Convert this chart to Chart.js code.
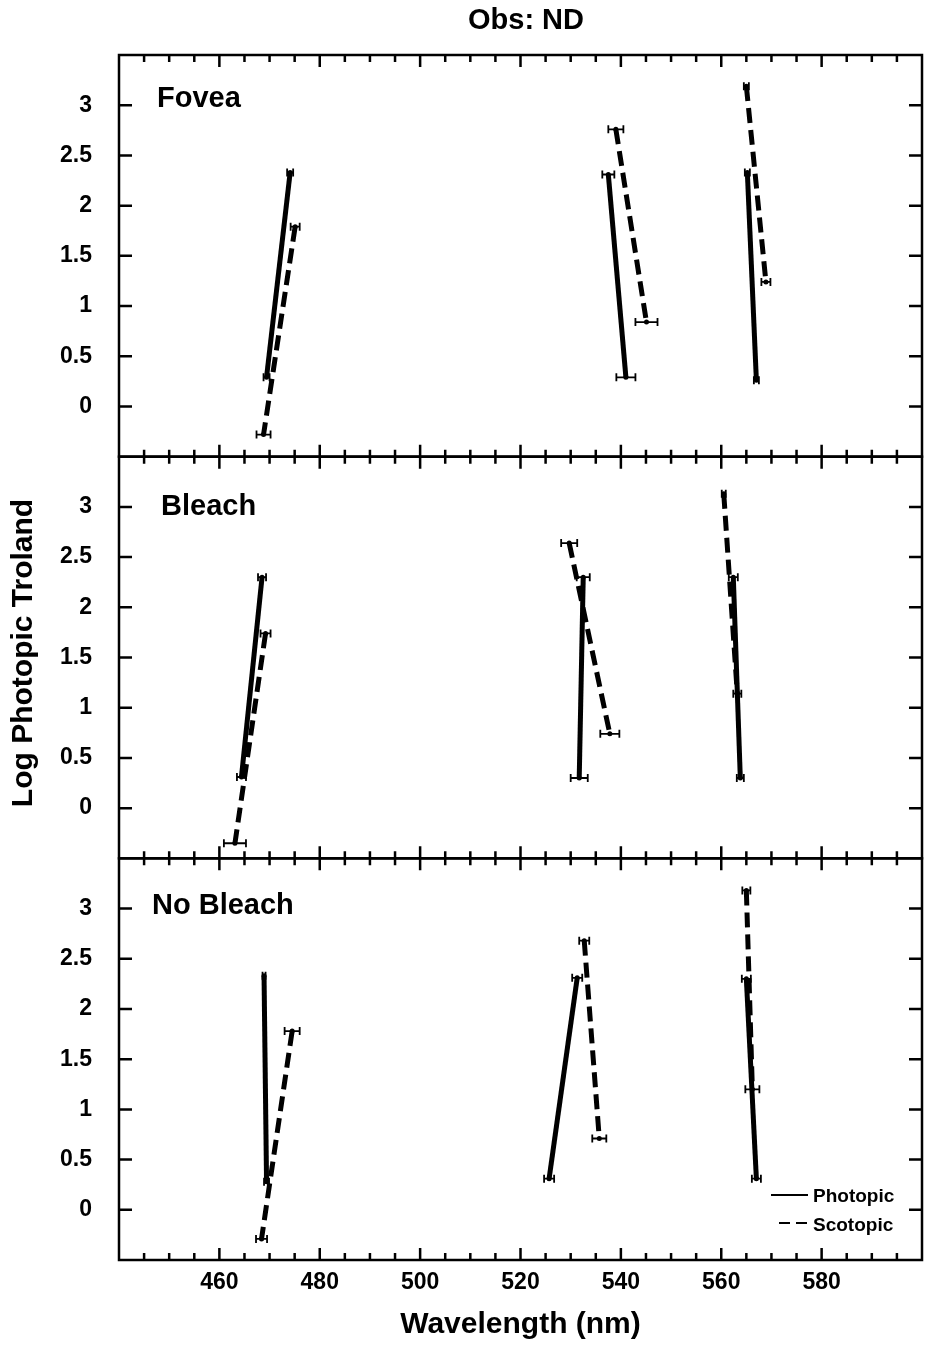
<!DOCTYPE html>
<html>
<head>
<meta charset="utf-8">
<script src="https://cdn.jsdelivr.net/npm/chart.js@4/dist/chart.umd.min.js"></script>
<style>
  html, body { margin: 0; padding: 0; background: #fff; }
  #wrap { width: 926px; height: 1353px; position: relative; }
</style>
</head>
<body>
<div id="wrap"><canvas id="c" width="926" height="1353"></canvas></div>
<script>
// ---------------- data ----------------
const chartTitle = 'Obs: ND';
const xAxisTitle = 'Wavelength (nm)';
const yAxisTitle = 'Log Photopic Troland';
const panelNames = ['Fovea', 'Bleach', 'No Bleach'];
const seriesNames = ['Photopic', 'Scotopic'];
const xTicks = [460, 480, 500, 520, 540, 560, 580];
const yTicks = [0, 0.5, 1, 1.5, 2, 2.5, 3];

// each segment: [wavelength (nm), log photopic troland, horizontal error (nm)]
const foveaPhotopic = [
  [[474.1, 2.33, 0.6], [469.4, 0.29, 0.6]],
  [[537.5, 2.31, 1.2], [541.0, 0.29, 1.9]],
  [[565.2, 2.33, 0.5], [567.0, 0.26, 0.5]]
];
const foveaScotopic = [
  [[475.1, 1.79, 0.9], [468.8, -0.28, 1.4]],
  [[539.0, 2.76, 1.5], [545.1, 0.84, 2.2]],
  [[565.0, 3.19, 0.5], [568.9, 1.24, 0.9]]
];
const bleachPhotopic = [
  [[468.5, 2.30, 0.8], [464.4, 0.31, 0.9]],
  [[532.5, 2.30, 1.3], [531.7, 0.30, 1.7]],
  [[562.4, 2.30, 0.9], [563.8, 0.30, 0.7]]
];
const bleachScotopic = [
  [[469.2, 1.74, 1.0], [463.1, -0.35, 2.2]],
  [[529.7, 2.64, 1.6], [537.8, 0.74, 1.9]],
  [[560.5, 3.13, 0.4], [563.2, 1.14, 0.8]]
];
const noBleachPhotopic = [
  [[468.9, 2.33, 0.3], [469.4, 0.28, 0.5]],
  [[531.3, 2.31, 1.0], [525.7, 0.31, 1.0]],
  [[565.0, 2.30, 0.9], [567.0, 0.31, 0.9]]
];
const noBleachScotopic = [
  [[474.5, 1.78, 1.5], [468.4, -0.29, 1.1]],
  [[532.7, 2.68, 1.0], [535.7, 0.71, 1.4]],
  [[565.0, 3.18, 0.8], [566.2, 1.20, 1.4]]
];

// ---------------- build ----------------
const FONT = '"Liberation Sans", Arial, Helvetica, sans-serif';
const panelData = [
  [foveaPhotopic, foveaScotopic],
  [bleachPhotopic, bleachScotopic],
  [noBleachPhotopic, noBleachScotopic]
];
const axisIds = ['yFovea', 'yBleach', 'yNoBleach'];

const datasets = [];
panelData.forEach((pair, p) => {
  pair.forEach((segs, s) => {
    segs.forEach(seg => {
      datasets.push({
        label: seriesNames[s],
        xAxisID: 'x',
        yAxisID: axisIds[p],
        data: seg.map(([x, y, e]) => ({ x: x, y: y, e: e })),
        borderColor: '#000',
        backgroundColor: '#000',
        borderWidth: 5,
        borderDash: s === 1 ? [15, 7] : [],
        pointRadius: 2.5,
        pointBackgroundColor: '#000',
        pointBorderWidth: 0,
        tension: 0,
        fill: false
      });
    });
  });
});

function makeY() {
  return {
    type: 'linear',
    position: 'left',
    stack: 'panels',
    stackWeight: 1,
    min: -0.5,
    max: 3.5,
    afterBuildTicks: s => { s.ticks = yTicks.map(v => ({ value: v })); },
    afterFit: s => { s.width = 119; },
    ticks: {
      font: { family: FONT, size: 23, weight: 'bold' },
      color: '#000',
      padding: 27,
      autoSkip: false,
      callback: v => String(v)
    },
    grid: { display: false, drawTicks: false },
    border: { display: false }
  };
}

// panel label offsets from the panel's top-left corner (layout only)
const panelLabelOffsets = [[38, 52], [42, 58], [33, 56]];

const decorPlugin = {
  id: 'decor',
  afterDatasetsDraw(chart) {
    const ctx = chart.ctx;
    const xs = chart.scales.x;
    const ca = chart.chartArea;
    ctx.save();
    ctx.strokeStyle = '#000';
    ctx.fillStyle = '#000';
    ctx.setLineDash([]);

    // horizontal error bars
    ctx.lineWidth = 1.8;
    chart.data.datasets.forEach(ds => {
      const ys = chart.scales[ds.yAxisID];
      ds.data.forEach(pt => {
        const y = ys.getPixelForValue(pt.y);
        const x1 = xs.getPixelForValue(pt.x - pt.e);
        const x2 = xs.getPixelForValue(pt.x + pt.e);
        ctx.beginPath();
        ctx.moveTo(x1, y); ctx.lineTo(x2, y);
        ctx.moveTo(x1, y - 4); ctx.lineTo(x1, y + 4);
        ctx.moveTo(x2, y - 4); ctx.lineTo(x2, y + 4);
        ctx.stroke();
      });
    });

    // panel frames and inward ticks
    ctx.lineWidth = 2.5;
    axisIds.forEach((id, p) => {
      const s = chart.scales[id];
      ctx.strokeRect(ca.left, s.top, ca.right - ca.left, s.bottom - s.top);
      ctx.beginPath();
      yTicks.forEach(v => {
        const y = s.getPixelForValue(v);
        ctx.moveTo(ca.left, y); ctx.lineTo(ca.left + 13, y);
        ctx.moveTo(ca.right, y); ctx.lineTo(ca.right - 13, y);
      });
      for (let v = xs.min + 5; v < xs.max; v += 5) {
        const x = xs.getPixelForValue(v);
        const len = (v % 20 === 0) ? 12 : 7;
        ctx.moveTo(x, s.top); ctx.lineTo(x, s.top + len);
        ctx.moveTo(x, s.bottom); ctx.lineTo(x, s.bottom - len);
      }
      ctx.stroke();

      // panel label
      ctx.font = 'bold 29px ' + FONT;
      ctx.textAlign = 'left';
      ctx.textBaseline = 'alphabetic';
      ctx.fillText(panelNames[p], ca.left + panelLabelOffsets[p][0], s.top + panelLabelOffsets[p][1]);
    });

    // legend (inside bottom panel, lower right)
    const sb = chart.scales[axisIds[2]];
    ctx.font = 'bold 19px ' + FONT;
    ctx.textBaseline = 'middle';
    ctx.textAlign = 'left';
    ctx.lineWidth = 1.8;
    ctx.beginPath();
    ctx.moveTo(ca.right - 151, sb.bottom - 65); ctx.lineTo(ca.right - 114, sb.bottom - 65);
    ctx.stroke();
    ctx.fillText(seriesNames[0], ca.right - 109, sb.bottom - 63);
    ctx.setLineDash([11, 6]);
    ctx.beginPath();
    ctx.moveTo(ca.right - 143, sb.bottom - 37); ctx.lineTo(ca.right - 114, sb.bottom - 37);
    ctx.stroke();
    ctx.setLineDash([]);
    ctx.fillText(seriesNames[1], ca.right - 109, sb.bottom - 34);

    // chart title
    ctx.font = 'bold 29px ' + FONT;
    ctx.textAlign = 'center';
    ctx.textBaseline = 'middle';
    ctx.fillText(chartTitle, 526, 21);

    // y axis title
    ctx.save();
    ctx.translate(24, 653);
    ctx.rotate(-Math.PI / 2);
    ctx.font = 'bold 30px ' + FONT;
    ctx.textAlign = 'center';
    ctx.textBaseline = 'middle';
    ctx.fillText(yAxisTitle, 0, 0);
    ctx.restore();

    ctx.restore();
  }
};

const scales = {
  x: {
    type: 'linear',
    position: 'bottom',
    min: 440,
    max: 600,
    afterBuildTicks: s => { s.ticks = xTicks.map(v => ({ value: v })); },
    afterFit: s => { s.height = 93; },
    ticks: {
      font: { family: FONT, size: 23, weight: 'bold' },
      color: '#000',
      padding: 9,
      maxRotation: 0,
      autoSkip: false,
      callback: v => String(v)
    },
    grid: { display: false, drawTicks: false },
    border: { display: false },
    title: {
      display: true,
      text: xAxisTitle,
      font: { family: FONT, size: 30, weight: 'bold' },
      color: '#000',
      padding: { top: 0, bottom: 10 }
    }
  },
  // left stacked axes are placed top-down in reverse definition order
  yNoBleach: makeY(),
  yBleach: makeY(),
  yFovea: makeY()
};

new Chart(document.getElementById('c'), {
  type: 'line',
  data: { datasets: datasets },
  options: {
    responsive: false,
    animation: false,
    layout: { padding: { top: 55, left: 0, right: 4, bottom: 0 } },
    plugins: {
      legend: { display: false },
      title: { display: false },
      tooltip: { enabled: false }
    },
    scales: scales
  },
  plugins: [decorPlugin]
});
</script>
</body>
</html>
